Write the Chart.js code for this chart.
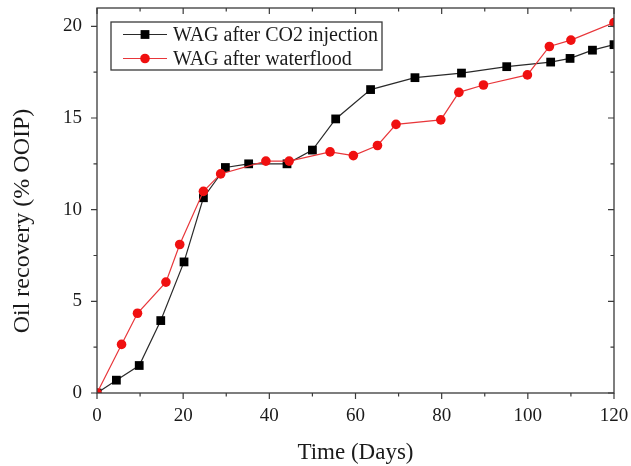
<!DOCTYPE html>
<html>
<head>
<meta charset="utf-8">
<script src="https://cdn.jsdelivr.net/npm/chart.js@4"></script>
<style>
  html, body { margin: 0; padding: 0; background: #fff; }
  #wrap { width: 631px; height: 466px; position: relative; }
</style>
</head>
<body>
<div id="wrap"><canvas id="c" width="631" height="466"></canvas></div>
<script>
// ---- data ----
const seriesNames = ["WAG after CO2 injection", "WAG after waterflood"];
const daysCO2 = [0, 4.5, 9.8, 14.8, 20.2, 24.7, 29.8, 35.2, 44.1, 50.0, 55.4, 63.5, 73.8, 84.6, 95.1, 105.3, 109.8, 115.0, 120];
const recoveryCO2 = [0, 0.7, 1.5, 3.95, 7.15, 10.65, 12.3, 12.5, 12.5, 13.25, 14.95, 16.55, 17.2, 17.45, 17.8, 18.05, 18.25, 18.7, 19.0];
const daysWF = [0, 5.7, 9.4, 16.0, 19.2, 24.7, 28.7, 39.2, 44.6, 54.1, 59.5, 65.1, 69.4, 79.8, 84.0, 89.7, 99.9, 105.0, 110.0, 120];
const recoveryWF = [0, 2.65, 4.35, 6.05, 8.1, 11.0, 11.95, 12.65, 12.65, 13.15, 12.95, 13.5, 14.65, 14.9, 16.4, 16.8, 17.35, 18.9, 19.25, 20.2];
const xTicks = [0, 20, 40, 60, 80, 100, 120];
const xMinorTicks = [10, 30, 50, 70, 90, 110];
const yTicks = [0, 5, 10, 15, 20];
const yMinorTicks = [2.5, 7.5, 12.5, 17.5];
const xTitle = "Time (Days)";
const yTitle = "Oil recovery (% OOIP)";

const FONT = "'Liberation Serif', 'Times New Roman', serif";
const FRAME = "#3a3a3a";

const toXY = (xs, ys) => xs.map((x, i) => ({ x: x, y: ys[i] }));

const styles = [
  { line: "#2a2a2a", fill: "#000000", shape: "rect", r: 6.2 },
  { line: "#e8363a", fill: "#f01010", shape: "circle", r: 4.8 }
];

const framePlugin = {
  id: "frame",
  afterDraw(chart) {
    const ctx = chart.ctx;
    const a = chart.chartArea;
    const xs = chart.scales.x, ys = chart.scales.y;
    ctx.save();
    ctx.strokeStyle = FRAME;
    ctx.lineWidth = 1.3;
    ctx.strokeRect(a.left, a.top, a.right - a.left, a.bottom - a.top);
    ctx.lineWidth = 1.2;
    ctx.beginPath();
    const tick = (vals, len, isX) => {
      vals.forEach(v => {
        if (isX) {
          const px = xs.getPixelForValue(v);
          ctx.moveTo(px, a.bottom); ctx.lineTo(px, a.bottom + len);
          ctx.moveTo(px, a.top); ctx.lineTo(px, a.top + len);
        } else {
          const py = ys.getPixelForValue(v);
          ctx.moveTo(a.left, py); ctx.lineTo(a.left - len, py);
          ctx.moveTo(a.right, py); ctx.lineTo(a.right - len, py);
        }
      });
    };
    tick(xTicks, 6, true);
    tick(xMinorTicks, 3.5, true);
    tick(yTicks, 6, false);
    tick(yMinorTicks, 3.5, false);
    ctx.stroke();

    // y axis title
    ctx.fillStyle = "#1a1a1a";
    ctx.font = "24px " + FONT;
    ctx.textAlign = "center";
    ctx.textBaseline = "middle";
    ctx.translate(23, 221);
    ctx.rotate(-Math.PI / 2);
    ctx.fillText(yTitle, 0, 0);
    ctx.restore();

    // legend box
    ctx.save();
    const bx = 111, by = 22, bw = 271, bh = 48;
    ctx.strokeStyle = FRAME;
    ctx.lineWidth = 1.3;
    ctx.strokeRect(bx, by, bw, bh);
    ctx.font = "20px " + FONT;
    ctx.textBaseline = "middle";
    ctx.textAlign = "left";
    const rows = [34.5, 58.5];
    chart.data.datasets.forEach((ds, i) => {
      const st = styles[i];
      const yy = rows[i];
      ctx.strokeStyle = st.line;
      ctx.lineWidth = 1.2;
      ctx.beginPath(); ctx.moveTo(123, yy); ctx.lineTo(167, yy); ctx.stroke();
      ctx.fillStyle = st.fill;
      if (st.shape === "rect") {
        ctx.fillRect(145 - 4.4, yy - 4.4, 8.8, 8.8);
      } else {
        ctx.beginPath(); ctx.arc(145, yy, st.r, 0, Math.PI * 2); ctx.fill();
      }
      ctx.fillStyle = "#1a1a1a";
      ctx.fillText(ds.label, 173, yy + 1);
    });
    ctx.restore();
  }
};

new Chart(document.getElementById("c"), {
  type: "line",
  data: {
    datasets: [
      {
        label: seriesNames[0],
        data: toXY(daysCO2, recoveryCO2),
        borderColor: styles[0].line,
        backgroundColor: styles[0].fill,
        pointBackgroundColor: styles[0].fill,
        pointBorderColor: styles[0].fill,
        pointStyle: "rect",
        pointRadius: styles[0].r,
        pointBorderWidth: 0,
        borderWidth: 1.2,
        tension: 0,
        order: 1
      },
      {
        label: seriesNames[1],
        data: toXY(daysWF, recoveryWF),
        borderColor: styles[1].line,
        backgroundColor: styles[1].fill,
        pointBackgroundColor: styles[1].fill,
        pointBorderColor: styles[1].fill,
        pointStyle: "circle",
        pointRadius: styles[1].r,
        pointBorderWidth: 0,
        borderWidth: 1.2,
        tension: 0,
        order: 0
      }
    ]
  },
  options: {
    responsive: false,
    animation: false,
    devicePixelRatio: 1,
    layout: { padding: { top: 8, right: 17, left: 0, bottom: 0 } },
    plugins: { legend: { display: false }, tooltip: { enabled: false } },
    scales: {
      x: {
        type: "linear",
        min: 0, max: 120,
        grid: { display: false },
        border: { display: false },
        afterFit(s) { s.height = 73; s.paddingLeft = 0; s.paddingRight = 0; },
        afterBuildTicks(s) { s.ticks = xTicks.map(v => ({ value: v })); },
        ticks: { color: "#1a1a1a", font: { family: FONT, size: 19 }, padding: 4, maxRotation: 0 },
        title: { display: true, text: xTitle, color: "#1a1a1a", font: { family: FONT, size: 23 }, padding: { top: 0, bottom: -1 } }
      },
      y: {
        type: "linear",
        min: 0, max: 21,
        grid: { display: false },
        border: { display: false },
        afterFit(s) { s.width = 97; s.paddingTop = 0; s.paddingBottom = 0; },
        afterBuildTicks(s) { s.ticks = yTicks.map(v => ({ value: v })); },
        ticks: { color: "#1a1a1a", font: { family: FONT, size: 19 }, padding: 7 }
      }
    }
  },
  plugins: [framePlugin]
});
</script>
</body>
</html>
